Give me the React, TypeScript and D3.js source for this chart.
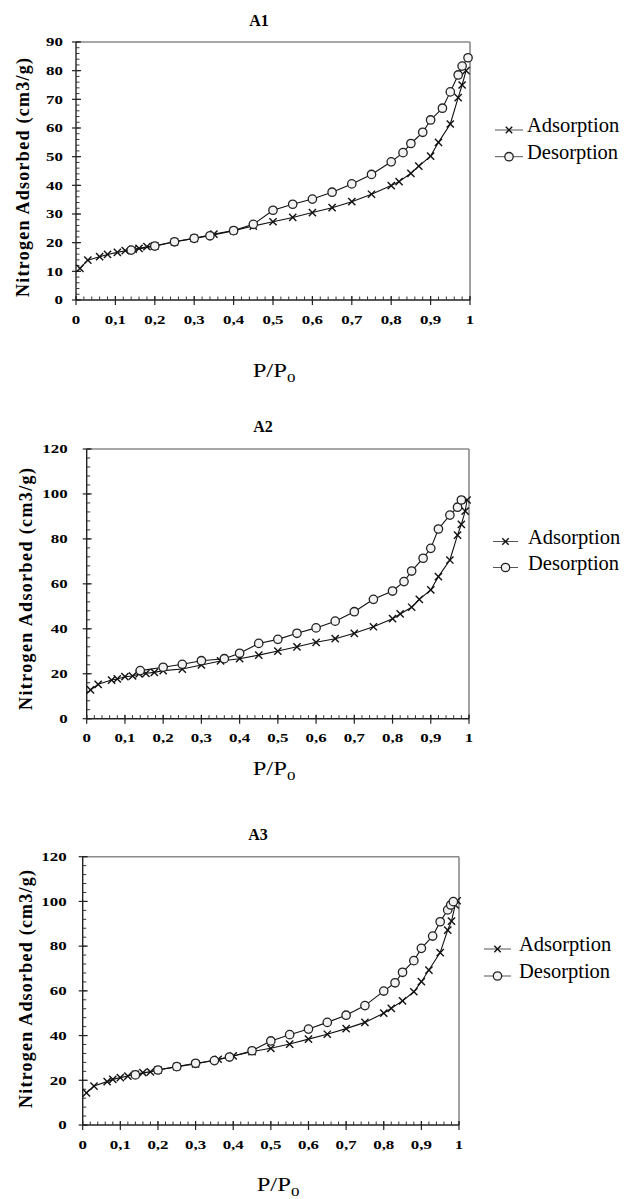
import React from 'react';
import * as d3 from 'd3';

const a1AdsP = [0.01, 0.03, 0.06, 0.08, 0.105, 0.125, 0.145, 0.16, 0.18, 0.2, 0.25, 0.3, 0.35, 0.4, 0.45, 0.5, 0.55, 0.6, 0.65, 0.7, 0.75, 0.8, 0.82, 0.85, 0.87, 0.9, 0.92, 0.95, 0.97, 0.98, 0.99];
const a1AdsV = [11, 13.9, 15.1, 15.9, 16.6, 17.2, 17.7, 18, 18.6, 18.9, 20.3, 21.5, 23, 24.2, 25.8, 27.3, 28.8, 30.5, 32.2, 34.3, 36.9, 39.9, 41.3, 44.2, 46.7, 50.2, 55, 61.4, 70.6, 75, 80];
const a1DesP = [0.14, 0.2, 0.25, 0.3, 0.34, 0.4, 0.45, 0.5, 0.55, 0.6, 0.65, 0.7, 0.75, 0.8, 0.83, 0.85, 0.88, 0.9, 0.93, 0.95, 0.97, 0.98, 0.995];
const a1DesV = [17.4, 18.8, 20.3, 21.5, 22.4, 24.2, 26.4, 31.3, 33.4, 35.2, 37.6, 40.5, 43.8, 48.2, 51.4, 54.6, 58.5, 62.8, 66.9, 72.6, 78.5, 81.6, 84.5];

const a2AdsP = [0.01, 0.03, 0.065, 0.08, 0.1, 0.12, 0.137, 0.155, 0.177, 0.2, 0.25, 0.3, 0.35, 0.4, 0.45, 0.5, 0.55, 0.6, 0.65, 0.7, 0.75, 0.8, 0.82, 0.85, 0.87, 0.9, 0.92, 0.95, 0.97, 0.98, 0.99, 0.995];
const a2AdsV = [12.8, 15.3, 17.2, 17.7, 18.7, 19, 19.9, 20.2, 20.6, 21.4, 22.1, 23.9, 25.7, 26.7, 28.3, 30.1, 32, 34, 35.6, 38, 40.9, 44.5, 46.6, 49.6, 53.1, 57.3, 63.2, 70.6, 81.7, 86.5, 92.4, 97.3];
const a2DesP = [0.14, 0.2, 0.25, 0.3, 0.36, 0.4, 0.45, 0.5, 0.55, 0.6, 0.65, 0.7, 0.75, 0.8, 0.83, 0.85, 0.88, 0.9, 0.92, 0.95, 0.97, 0.98];
const a2DesV = [21.4, 22.9, 24.2, 25.8, 26.7, 29.1, 33.5, 35.3, 38, 40.4, 43.4, 47.6, 53.1, 56.8, 61, 65.7, 71.4, 75.8, 84.4, 90.6, 94.1, 97.3];

const a3AdsP = [0.01, 0.03, 0.065, 0.08, 0.1, 0.12, 0.14, 0.16, 0.18, 0.2, 0.25, 0.3, 0.36, 0.4, 0.45, 0.5, 0.55, 0.6, 0.65, 0.7, 0.75, 0.8, 0.82, 0.85, 0.88, 0.9, 0.92, 0.95, 0.97, 0.98, 0.99, 0.995];
const a3AdsV = [14.4, 17.4, 19.4, 20.4, 21.2, 21.9, 22.7, 23.4, 23.8, 24.6, 26.1, 27.3, 29.4, 30.9, 32.8, 34.3, 36.2, 38.4, 40.6, 43.1, 45.9, 50, 52.2, 55.5, 59.6, 64.1, 69.3, 77.1, 87.2, 91.2, 98.4, 100.3];
const a3DesP = [0.14, 0.2, 0.25, 0.3, 0.35, 0.39, 0.45, 0.5, 0.55, 0.6, 0.65, 0.7, 0.75, 0.8, 0.83, 0.85, 0.88, 0.9, 0.93, 0.95, 0.97, 0.978, 0.985];
const a3DesV = [22.4, 24.6, 26.1, 27.6, 28.8, 30.4, 33.2, 37.6, 40.4, 42.9, 45.9, 49.1, 53.4, 59.9, 63.6, 68.3, 73.5, 79, 84.5, 90.9, 96.2, 98.4, 99.9];

const titles = ['A1', 'A2', 'A3'];
const seriesNames = ['Adsorption', 'Desorption'];
const yTitle = 'Nitrogen Adsorbed (cm3/g)';
const yMaxes = [90, 120, 120];
const yMajorSteps = [10, 20, 20];
const yMinorSteps = [2, 4, 4];

const FONT = 'Liberation Serif, DejaVu Serif, Times New Roman, serif';

const layouts = [
  { left: 76, right: 470, top: 42, bottom: 300, yLabGap: 13, titleX: 259, titleY: 26, xtX: 274, xtY: 376.5, ytX: 22.5, ytY: 177.5, ytLen: 239, legX0: 495, legX1: 523, legTx: 527, legY: [130, 156.7] },
  { left: 86.7, right: 469, top: 449, bottom: 718.7, yLabGap: 19, titleX: 263, titleY: 432, xtX: 274, xtY: 775, ytX: 25.6, ytY: 589, ytLen: 242, legX0: 493, legX1: 518, legTx: 528, legY: [541.5, 567.5] },
  { left: 82.7, right: 459, top: 856.7, bottom: 1125, yLabGap: 16, titleX: 258, titleY: 840, xtX: 278, xtY: 1191, ytX: 25.6, ytY: 989, ytLen: 238, legX0: 484, legX1: 511, legTx: 519, legY: [949, 976] },
];

const panelData = [
  [a1AdsP, a1AdsV, a1DesP, a1DesV],
  [a2AdsP, a2AdsV, a2DesP, a2DesV],
  [a3AdsP, a3AdsV, a3DesP, a3DesV],
];

const fmtX = (v: number) => d3.format('.1~f')(v).replace('.', ',');

const Cross = ({ cx, cy, s = 3.6 }: { cx: number; cy: number; s?: number }) => (
  <g stroke="#111" strokeWidth={1.4}>
    <line x1={cx - s} y1={cy - s} x2={cx + s} y2={cy + s} />
    <line x1={cx - s} y1={cy + s} x2={cx + s} y2={cy - s} />
  </g>
);

const Ring = ({ cx, cy }: { cx: number; cy: number }) => (
  <circle cx={cx} cy={cy} r={4.2} fill="#f2f2f2" stroke="#222" strokeWidth={1.3} />
);

const Panel = ({ idx }: { idx: number }) => {
  const L = layouts[idx];
  const [adsP, adsV, desP, desV] = panelData[idx];
  const yMax = yMaxes[idx];

  const x = d3.scaleLinear().domain([0, 1]).range([L.left, L.right]);
  const y = d3.scaleLinear().domain([0, yMax]).range([L.bottom, L.top]);
  const line = d3.line<[number, number]>().x(d => x(d[0])).y(d => y(d[1]));

  const ads: [number, number][] = adsP.map((p, i) => [p, adsV[i]]);
  const des: [number, number][] = desP.map((p, i) => [p, desV[i]]);

  const xMajor = d3.range(0, 11).map(i => i / 10);
  const xMinor = d3.range(0, 51).map(i => i / 50);
  const yMajor = d3.range(0, yMax + 0.01, yMajorSteps[idx]);
  const yMinor = d3.range(0, yMax + 0.01, yMinorSteps[idx]);

  return (
    <g style={{ fontFamily: FONT }}>
      <text x={L.titleX} y={L.titleY} textAnchor="middle" fontWeight="bold" fontSize={16}>{titles[idx]}</text>

      {/* frame: grey top/right, black axes */}
      <line x1={L.left} y1={L.top} x2={L.right} y2={L.top} stroke="#8a8a8a" strokeWidth={1.6} />
      <line x1={L.right} y1={L.top} x2={L.right} y2={L.bottom} stroke="#8a8a8a" strokeWidth={1.6} />
      <line x1={L.left} y1={L.top} x2={L.left} y2={L.bottom} stroke="#222" strokeWidth={1.4} />
      <line x1={L.left} y1={L.bottom} x2={L.right} y2={L.bottom} stroke="#222" strokeWidth={1.4} />

      {xMinor.map((t, i) => (
        <line key={'xm' + i} x1={x(t)} x2={x(t)} y1={L.bottom} y2={L.bottom - 3.5} stroke="#333" strokeWidth={1} />
      ))}
      {xMajor.map((t, i) => (
        <g key={'xM' + i}>
          <line x1={x(t)} x2={x(t)} y1={L.bottom + 5} y2={L.bottom - 4} stroke="#222" strokeWidth={1.2} />
          <text transform={`translate(${x(t)},${L.bottom + 23.5}) scale(1.3,1)`} textAnchor="middle" fontWeight="bold" fontSize={13}>{fmtX(t)}</text>
        </g>
      ))}
      {yMinor.map((t, i) => (
        <line key={'ym' + i} x1={L.left} x2={L.left + 3.5} y1={y(t)} y2={y(t)} stroke="#333" strokeWidth={1} />
      ))}
      {yMajor.map((t, i) => (
        <g key={'yM' + i}>
          <line x1={L.left - 4} x2={L.left + 5} y1={y(t)} y2={y(t)} stroke="#222" strokeWidth={1.2} />
          <text transform={`translate(${L.left - L.yLabGap},${y(t)}) scale(1.3,1)`} textAnchor="end" dominantBaseline="central" fontWeight="bold" fontSize={13}>{t}</text>
        </g>
      ))}

      <path d={line(ads) || ''} fill="none" stroke="#111" strokeWidth={1.1} />
      <path d={line(des) || ''} fill="none" stroke="#111" strokeWidth={1.1} />
      {ads.map((d, i) => <Cross key={'a' + i} cx={x(d[0])} cy={y(d[1])} />)}
      {des.map((d, i) => <Ring key={'d' + i} cx={x(d[0])} cy={y(d[1])} />)}

      <text transform={`translate(${L.ytX},${L.ytY}) rotate(-90)`} textAnchor="middle" dominantBaseline="central"
        fontWeight="bold" fontSize={18} textLength={L.ytLen} lengthAdjust="spacing">{yTitle}</text>

      <text transform={`translate(${L.xtX},${L.xtY}) scale(1.3,1)`} textAnchor="middle" fontSize={19}>
        P/P<tspan fontSize={13} dy={5}>0</tspan>
      </text>

      {seriesNames.map((name, i) => {
        const ly = L.legY[i];
        const mx = (L.legX0 + L.legX1) / 2;
        return (
          <g key={name}>
            <line x1={L.legX0} x2={L.legX1} y1={ly} y2={ly} stroke="#555" strokeWidth={1} />
            {i === 0 ? <Cross cx={mx} cy={ly} s={3.2} /> : <Ring cx={mx} cy={ly} />}
            <text x={L.legTx} y={ly + 2} fontSize={20.5}>{name}</text>
          </g>
        );
      })}
    </g>
  );
};

const App = () => (
  <div style={{ position: 'absolute', left: 0, top: 0 }}>
    <svg width={637} height={1199} style={{ display: 'block', background: '#fff' }}>
      {[0, 1, 2].map(i => <Panel key={i} idx={i} />)}
    </svg>
  </div>
);

export default App;
